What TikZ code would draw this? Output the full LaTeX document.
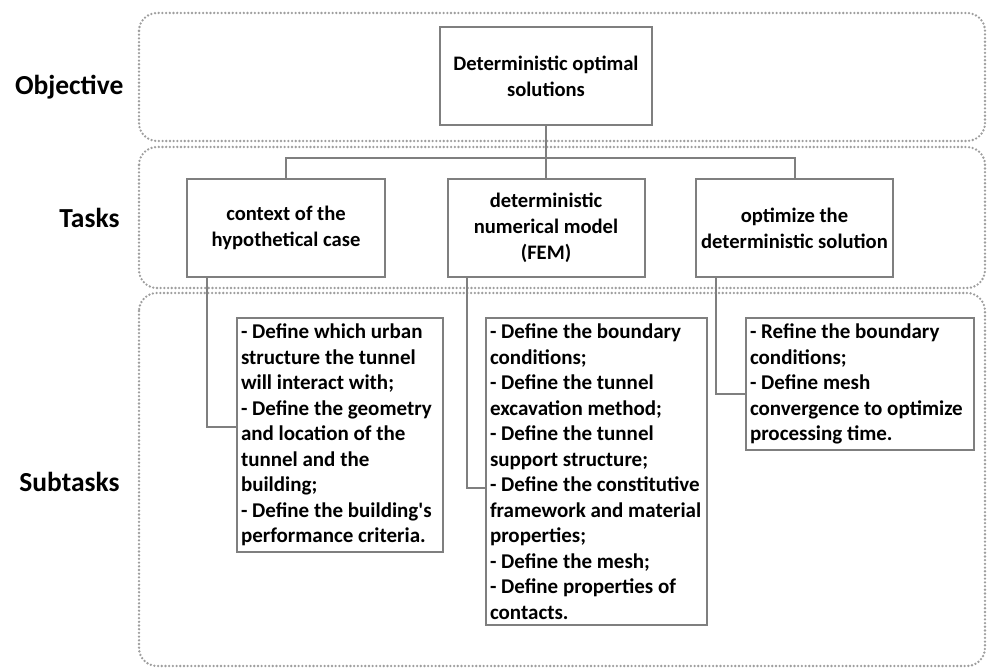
\documentclass[tikz,border=0pt]{standalone}
\usepackage{fontspec}
\setmainfont{Carlito}[Ligatures=TeXOff]
\usetikzlibrary{positioning}
\definecolor{boxgray}{HTML}{7F7F7F}
\definecolor{dotgray}{HTML}{9E9E9E}
\begin{document}
\begin{tikzpicture}[x=1pt, y=-1pt,
    band/.style={draw=dotgray, line width=2.6pt, line cap=round, dash pattern=on 0pt off 3.7pt, rounded corners=18pt},
    taskbox/.style={draw=boxgray, line width=2pt, fill=white, align=center, inner sep=0pt, font=\fontsize{20.6}{25.8}\selectfont\bfseries},
    subbox/.style={draw=boxgray, line width=2pt, fill=white, align=flush left, anchor=north west, inner xsep=4pt, inner ysep=6pt, font=\fontsize{21}{25.5}\selectfont\bfseries},
    lbl/.style={anchor=east, font=\fontsize{27.5}{30}\selectfont\bfseries},
    link/.style={draw=boxgray, line width=2pt}]
\useasboundingbox (0,0) rectangle (989,668);
\draw[band](139,13) rectangle (985,141);
\draw[band](139,147) rectangle (985,288);
\draw[band](139,293) rectangle (985,666);
\node[lbl] (objective) at (127,87) {Objective};
\node[lbl] (tasks) at (123,218) {Tasks};
\node[lbl] (subtasks) at (123,482) {Subtasks};
\node[taskbox, minimum width=212pt, minimum height=98pt] (goal) at (546,76) {Deterministic optimal\\solutions};
\node[taskbox, minimum width=198pt, minimum height=98pt] (context) at (286,228) {context of the\\hypothetical case};
\node[taskbox, minimum width=197pt, minimum height=98pt] (fem) at (546,228) {deterministic\\numerical model\\(FEM)};
\node[taskbox, minimum width=197pt, minimum height=98pt] (optim) at (794.5,228) {optimize the\\deterministic solution};
\node[subbox, text width=198pt] (subctx) at (236,317) {- Define which urban\\structure the tunnel\\will interact with;\\- Define the geometry\\and location of the\\tunnel and the\\building;\\- Define the building's\\performance criteria.};
\node[subbox, text width=213pt] (subfem) at (485,317) {- Define the boundary\\conditions;\\- Define the tunnel\\excavation method;\\- Define the tunnel\\support structure;\\- Define the constitutive\\framework and material\\properties;\\- Define the mesh;\\- Define properties of\\contacts.};
\node[subbox, text width=220pt] (subopt) at (745,317) {- Refine the boundary\\conditions;\\- Define mesh\\convergence to optimize\\processing time.};
\coordinate (bus) at (546,158);
\draw[link](goal.south)--(fem.north);
\draw[link](context.north)|-(bus)-|(optim.north);
\draw[link]([xshift=21pt]context.south west)|-([yshift=8pt]subctx.west);
\draw[link]([xshift=20pt]fem.south west)|-([yshift=-16pt]subfem.west);
\draw[link]([xshift=21pt]optim.south west)|-([yshift=-10pt]subopt.west);
\end{tikzpicture}
\end{document}
